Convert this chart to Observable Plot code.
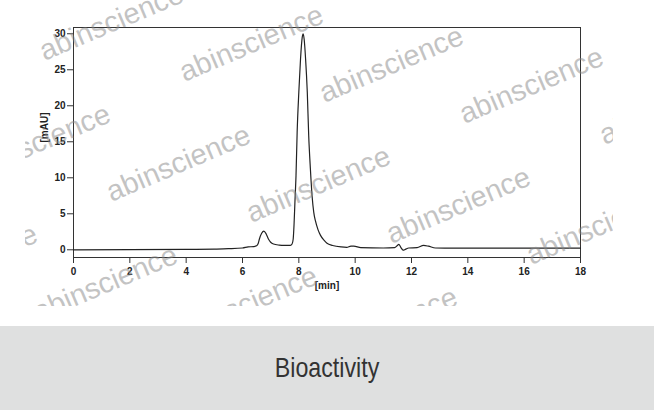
<!DOCTYPE html>
<html><head><meta charset="utf-8">
<script src="https://cdn.jsdelivr.net/npm/d3@7"></script>
<script src="https://cdn.jsdelivr.net/npm/@observablehq/plot@0.6"></script>
<style>
html,body{margin:0;padding:0;background:#fff;width:654px;height:410px;overflow:hidden;}
#wrap{position:relative;width:654px;height:326px;}
#wm{position:absolute;left:0;top:0;pointer-events:none;}
#band{width:654px;height:84px;background:#dfe0e0;display:flex;align-items:center;justify-content:center;font-family:"Liberation Sans",Arial,sans-serif;font-size:28px;color:#333;}
#band span{display:inline-block;transform:scaleX(0.83);}
</style></head><body>
<div id="wrap"><div id="chart"></div><svg id="wm" width="654" height="326"></svg></div>
<div id="band"><span id="cap"></span></div>
<script>
// Chromatogram: retention time [min] and absorbance [mAU]
const time = [0, 2, 4, 5, 5.5, 6.0, 6.2, 6.4, 6.5, 6.56, 6.6, 6.68, 6.76, 6.84, 6.92, 7.0, 7.1, 7.3, 7.5, 7.7, 7.76, 7.8, 7.83, 7.86, 7.9, 7.94, 8.0, 8.06, 8.12, 8.154, 8.19, 8.24, 8.3, 8.35, 8.41, 8.47, 8.53, 8.59, 8.68, 8.77, 8.9, 9.0, 9.2, 9.5, 9.7, 9.85, 9.95, 10.2, 11.0, 11.4, 11.5, 11.55, 11.62, 11.7, 11.78, 11.9, 12.2, 12.43, 12.6, 12.85, 13.5, 15, 18];
const absorbance = [0, 0.01, 0.05, 0.1, 0.15, 0.25, 0.4, 0.45, 0.55, 0.9, 1.5, 2.3, 2.6, 2.2, 1.5, 1.05, 0.8, 0.65, 0.6, 0.62, 0.8, 1.5, 3.5, 6.5, 10.3, 16.3, 21.9, 26.5, 29.5, 30.0, 29.2, 26.5, 21.9, 15.9, 11.25, 7.5, 5.2, 4.0, 2.8, 2.0, 1.3, 0.9, 0.6, 0.4, 0.35, 0.5, 0.5, 0.3, 0.25, 0.3, 0.6, 0.75, 0.35, -0.05, 0.05, 0.25, 0.3, 0.6, 0.5, 0.25, 0.22, 0.22, 0.22];
const xTicks = [0, 2, 4, 6, 8, 10, 12, 14, 16, 18];
const yTicks = [0, 5, 10, 15, 20, 25, 30];
const xLabel = "[min]";
const yLabel = "[mAU]";
const caption = "Bioactivity";
const watermark = "abinscience";

const data = time.map((t, i) => ({t, v: absorbance[i]}));

const chart = Plot.plot({
  width: 654, height: 326,
  marginLeft: 73, marginRight: 74, marginTop: 27, marginBottom: 69,
  style: {fontFamily: "'Liberation Sans', Arial, sans-serif", background: "transparent", color: "#222"},
  x: {domain: [0, 18]},
  y: {domain: [-1.07, 30.87]},
  marks: [
    Plot.frame({stroke: "#333", strokeWidth: 1}),
    Plot.axisX({ticks: xTicks, tickSize: 6, tickPadding: 4, fontWeight: "bold", fontSize: 10, label: null, stroke: "#333"}),
    Plot.axisY({ticks: yTicks, tickSize: 6, tickPadding: 2, fontWeight: "bold", fontSize: 10, label: null, stroke: "#333"}),
    Plot.lineY(data, {x: "t", y: "v", stroke: "#222", strokeWidth: 1.2, curve: "monotone-x"}),
    Plot.text([xLabel], {frameAnchor: "bottom", dy: 31, fontWeight: "bold", fontSize: 10, fill: "#222"}),
    Plot.text([yLabel], {frameAnchor: "left", dx: -29, rotate: -90, fontWeight: "bold", fontSize: 10, fill: "#222"})
  ]
});
document.getElementById("chart").appendChild(chart);
document.getElementById("cap").textContent = caption;

// watermark overlay (clipped to the original picture area)
const clip = {x0: 25, y0: 0, x1: 613, y1: 306};
const wm = d3.select("#wm");
wm.append("clipPath").attr("id", "wmclip").append("rect")
  .attr("x", clip.x0).attr("y", clip.y0).attr("width", clip.x1 - clip.x0).attr("height", clip.y1 - clip.y0);
const g = wm.append("g").attr("clip-path", "url(#wmclip)");
const ang = 23 * Math.PI / 180, half = 76;
for (let j = -2; j <= 3; j++) {
  for (let i = -3; i <= 6; i++) {
    const cx = 115 + i * 140 + j * 67;
    const cy = 31 + i * 21 + j * 141;
    // keep only watermarks with a visible part
    let visible = false;
    for (let s = -1; s <= 1; s += 0.1) {
      const px = cx + s * half * Math.cos(ang), py = cy - s * half * Math.sin(ang) - 8;
      if (px > clip.x0 + 3 && px < clip.x1 - 3 && py > clip.y0 + 3 && py < clip.y1 - 3) visible = true;
    }
    if (!visible) continue;
    g.append("text")
      .attr("transform", `translate(${cx},${cy}) rotate(-23)`)
      .attr("text-anchor", "middle")
      .attr("font-family", "'Liberation Sans', Arial, sans-serif")
      .attr("font-size", 29)
      .attr("fill", "#888")
      .attr("fill-opacity", 0.5)
      .text(watermark);
  }
}
</script>
</body></html>
